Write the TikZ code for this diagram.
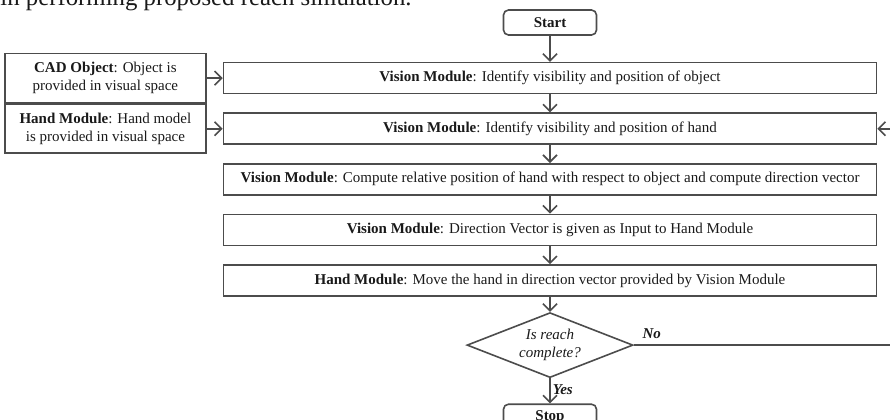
\documentclass[tikz,border=0pt]{standalone}
\usepackage{fontspec}
\setmainfont{Liberation Serif}
\usetikzlibrary{positioning,arrows.meta,shapes.geometric}

\begin{document}
\begin{tikzpicture}[
    x=0.5pt, y=-0.5pt,
    node distance=9pt,
    every node/.style={text=black!90, font=\fontsize{7.5}{9}\selectfont},
    box/.style={draw=black!70, line width=0.8pt, rectangle, minimum width=326.5pt, minimum height=15.5pt, inner sep=0pt, align=center},
    side/.style={draw=black!70, line width=0.8pt, rectangle, minimum width=100.5pt, minimum height=24.5pt, inner sep=0pt, align=center},
    term/.style={draw=black!70, line width=0.8pt, rectangle, rounded corners=2.5pt, minimum width=46.5pt, minimum height=12.5pt, inner sep=0pt, font=\fontsize{7.5}{9}\selectfont\bfseries},
    decision/.style={draw=black!70, line width=0.8pt, diamond, aspect=2.55, minimum width=83pt, minimum height=32.5pt, inner sep=0pt, align=center, font=\fontsize{7.5}{9}\selectfont\itshape},
    arr/.style={-{Straight Barb[length=3.5pt,width=7pt]}, line width=0.8pt, draw=black!70},
    lab/.style={inner sep=1pt, font=\fontsize{7.5}{9}\selectfont\bfseries\itshape}
]
    \useasboundingbox (0,0) rectangle (890,419);

    \node[anchor=base west, inner sep=0pt, font=\fontsize{12.4}{14}\selectfont] (caption) at (0,5) {in performing proposed reach simulation.};

    \node[term] (start) at (550,22.5) {Start};
    \node[box, below=13pt of start] (visobj) {\textbf{Vision Module}: Identify visibility and position of object};
    \node[box, below=of visobj] (vishand) {\textbf{Vision Module}: Identify visibility and position of hand};
    \node[box, below=of vishand] (relpos) {\textbf{Vision Module}: Compute relative position of hand with respect to object and compute direction vector};
    \node[box, below=of relpos] (dirvec) {\textbf{Vision Module}: Direction Vector is given as Input to Hand Module};
    \node[box, below=of dirvec] (move) {\textbf{Hand Module}: Move the hand in direction vector provided by Vision Module};
    \node[decision, below=7.5pt of move] (reach) {Is reach\\complete?};
    \node[term, below=12.5pt of reach] (stop) {Stop};

    \node[side, left=8pt of visobj] (cad) {\textbf{CAD Object}: Object is\\provided in visual space};
    \node[side, left=8pt of vishand] (handmodel) {\textbf{Hand Module}: Hand model\\is provided in visual space};

    \coordinate (loopx) at (895,0);

    \draw[arr] (start) -- (visobj);
    \draw[arr] (visobj) -- (vishand);
    \draw[arr] (vishand) -- (relpos);
    \draw[arr] (relpos) -- (dirvec);
    \draw[arr] (dirvec) -- (move);
    \draw[arr] (move) -- (reach);
    \draw[arr] (reach) -- node[lab, right, pos=0.45] {Yes} (stop);
    \draw[arr] (cad) -- (visobj);
    \draw[arr] (handmodel) -- (vishand);
    \draw[arr] (reach.east) -- node[lab, anchor=south west, pos=0, xshift=3pt, yshift=2pt] {No} (reach.east -| loopx) |- (vishand.east);
\end{tikzpicture}
\end{document}
